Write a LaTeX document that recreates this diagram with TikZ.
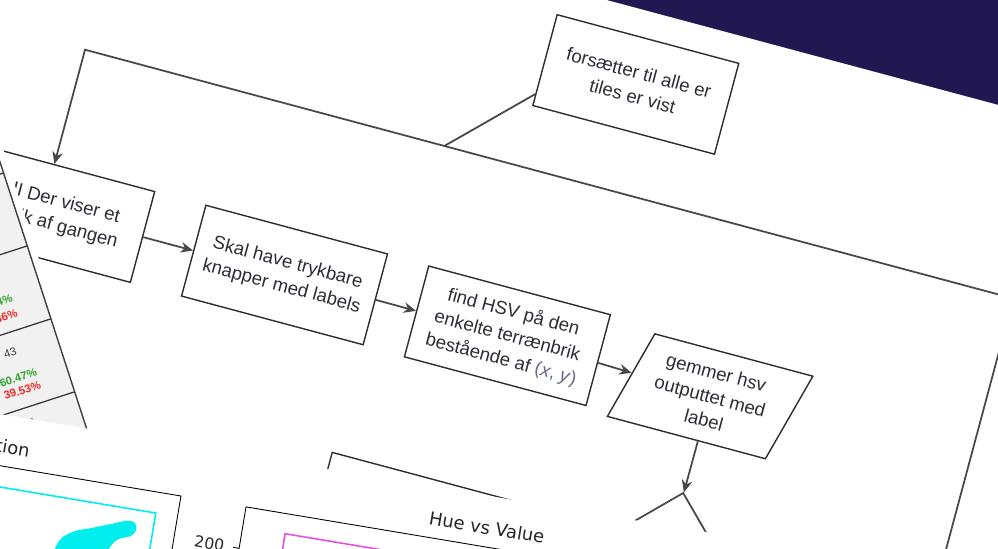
\documentclass[tikz,border=0pt]{standalone}
\usepackage{fontspec}
\setmainfont{Liberation Sans}
\newfontfamily\plotfont{DejaVu Sans}
\usetikzlibrary{arrows.meta,shapes.geometric}
\definecolor{navy}{RGB}{33,24,82}
\definecolor{ink}{RGB}{45,45,55}
\definecolor{wire}{RGB}{72,72,72}
\definecolor{xy}{RGB}{100,105,135}
\definecolor{cellgray}{RGB}{241,241,241}
\definecolor{okgreen}{RGB}{46,165,46}
\definecolor{badred}{RGB}{240,40,40}
\definecolor{scat}{RGB}{0,238,238}
\definecolor{magen}{RGB}{226,80,226}
\newcommand\flowfont{\fontsize{10.6pt}{13.9pt}\selectfont}
\newcommand\cellfont{\fontsize{6.4pt}{7.5pt}\selectfont}
\tikzset{
	box/.style={draw=ink,line width=0.8pt,rectangle,align=center,minimum width=3.76cm,minimum height=1.88cm,inner sep=2pt,font=\flowfont,text=ink},
	io/.style={box,trapezium,trapezium left angle=73,trapezium right angle=107,trapezium stretches=true,minimum width=3.78cm,minimum height=1.84cm},
	dec/.style={draw=wire,line width=1pt,diamond,aspect=1,minimum size=3.8cm,inner sep=0pt},
	link/.style={draw=wire,line width=1pt},
	>={Stealth[length=7pt,width=6pt]},
	cell/.style={font=\cellfont,inner sep=0pt},
	pct/.style={cell,font=\cellfont\bfseries,anchor=east},
	title/.style={font=\plotfont\fontsize{10.2pt}{11pt}\selectfont,text=black!85}
}

\begin{document}
\begin{tikzpicture}
	\useasboundingbox (0,0) rectangle (19.96,-10.96);
	\clip (0,0) rectangle (19.96,-10.96);
	\fill[navy] (0,0) rectangle (19.96,-10.96);
	% flowchart sheet
	\begin{scope}[rotate=-15,transform shape]
		\fill[white] (-6,3.14) rectangle (27,-14);
		\node[box] (forts) at (12.72,1.66) {forsætter til alle er\\tiles er vist};
		\node[box] (der) at (2.1,-3.84) {GUI Der viser et\\tilebrik af gangen};
		\node[box] (skal) at (6.92,-3.84) {Skal have trykbare\\knapper med labels};
		\node[box] (find) at (11.54,-3.86) {find HSV på den\\enkelte terrænbrik\\bestående af {\color{xy}(\textit{x}, \textit{y})}};
		\node[io] (gem) at (15.77,-3.98) {gemmer hsv\\outputtet med\\label};
		\node[dec] (valg) at (15.75,-7.88) {};
		\node[box] (naeste) at (10.64,-7.96) {};
		\coordinate (loopR) at (21.12,-0.52);
		\coordinate (loopL) at (1.9,-0.52);
		\coordinate (junc) at (9.34,-0.52);
		\draw[link,->] (der) -- (skal);
		\draw[link,->] (skal) -- (find);
		\draw[link,->] (find) -- (gem);
		\draw[link,->] (gem) -- (valg);
		\draw[link,->] (valg.east) -| (loopR) -- (loopL) -- (loopL |- der.north);
		\draw[link] (junc) -- ([yshift=7pt]forts.south west);
	\end{scope}
	% table sheet
	\begin{scope}[shift={(0,-3.24)},rotate=18,transform shape]
		\fill[white] (-10,6) rectangle (0.14,-12);
		\fill[cellgray] (-10,-0.23) rectangle (0,-12);
		\foreach \r in {-0.23,-1.764,-3.298,-4.832}
			\draw[black!80,line width=0.7pt] (-10,\r) -- (0,\r);
		\draw[black!75,line width=0.8pt] (0,6) -- (0,-12);
		\node[pct,text=okgreen] (g1) at (-0.6,-2.66) {57.14\%};
		\node[pct,text=badred] (r1) at (-0.6,-2.98) {42.86\%};
		\node[cell,text=black!75] (n2) at (-0.99,-3.7) {43};
		\node[pct,text=okgreen] (g2) at (-0.6,-4.22) {60.47\%};
		\node[pct,text=badred] (r2) at (-0.6,-4.48) {39.53\%};
		\node[cell,text=black!75] (n3) at (-1.0,-5.16) {6};
	\end{scope}
	% plot sheet
	\begin{scope}[shift={(0,-8.28)},rotate=-9.5,transform shape]
		\fill[white] (-8,0) rectangle (24,-8);
		\node[title] (hs) at (-0.9,-0.63) {Hue vs Saturation};
		\node[title] (hv) at (9.98,-0.63) {Hue vs Value};
		\draw[black,line width=0.5pt] (-5.56,-1.02) rectangle (3.84,-8);
		\draw[scat,line width=0.9pt] (-5.2,-1.44) rectangle (3.4,-8);
		\fill[scat] plot[smooth cycle,tension=0.7] coordinates {(1.55,-2.4) (1.8,-2.1) (2.2,-1.94) (2.56,-1.8) (2.9,-1.68) (3.06,-1.76) (3.0,-1.96) (2.7,-2.12) (2.5,-2.5) (2.2,-3.0) (1.55,-3.0)};
		\draw[black,line width=0.5pt] (5.16,-1.02) rectangle (14.8,-8);
		\draw[magen,line width=0.9pt] (6.02,-1.42) rectangle (14.4,-8);
		\node[font=\plotfont\fontsize{8.9pt}{10pt}\selectfont,text=black!85,anchor=east] (t200) at (4.98,-1.86) {200};
		\draw[black,line width=0.5pt] (5.04,-1.86) -- (5.16,-1.86);
	\end{scope}
\end{tikzpicture}
\end{document}
